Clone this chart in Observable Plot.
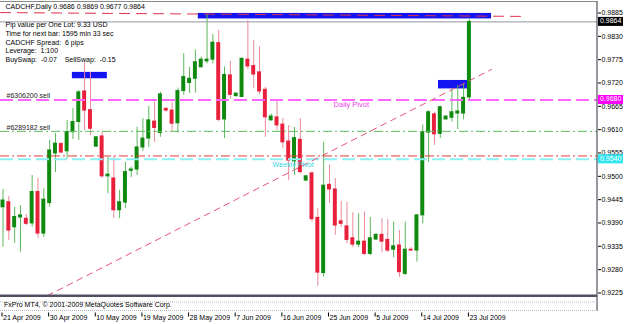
<!DOCTYPE html>
<html><head><meta charset="utf-8">
<script src="https://cdn.jsdelivr.net/npm/d3@7"></script>
<script src="https://cdn.jsdelivr.net/npm/@observablehq/plot@0.6"></script>
<style>
html,body{margin:0;padding:0;background:#fff;}
#chart svg{display:block;overflow:visible}
</style></head><body><div id="chart"></div>
<script>
// ---- data ----
const dateLabels = ["21 Apr 2009","30 Apr 2009","10 May 2009","19 May 2009","28 May 2009","7 Jun 2009","16 Jun 2009","25 Jun 2009","5 Jul 2009","14 Jul 2009","23 Jul 2009"];
const tickBars = [0,8,16,24,32,40,48,56,64,72,80];
const priceTicks = [0.9885,0.9830,0.9775,0.9720,0.9665,0.9610,0.9555,0.9500,0.9445,0.9390,0.9335,0.9280,0.9225];

const open = [
0.9427,0.9439,0.9380,0.9403,0.9400,0.9389,0.9463,0.9365,0.9437,0.9554,
0.9576,0.9559,0.9604,0.9628,0.9700,0.9656,0.9570,0.9594,0.9500,0.9495,
0.9420,0.9438,0.9513,0.9516,0.9568,0.9589,0.9629,0.9602,0.9659,0.9655,
0.9625,0.9701,0.9720,0.9730,0.9757,0.9771,0.9775,0.9814,0.9634,0.9738,
0.9689,0.9687,0.9775,0.9760,0.9745,0.9704,0.9632,0.9639,0.9622,0.9582,
0.9535,0.9586,0.9490,0.9507,0.9402,0.9272,0.9480,0.9469,0.9394,0.9382,
0.9354,0.9339,0.9346,0.9317,0.9351,0.9362,0.9350,0.9327,0.9337,0.9270,
0.9327,0.9325,0.9408,0.9603,0.9646,0.9600,0.9634,0.9638,0.9648,0.9648,
0.9686];
const high = [
0.9469,0.9453,0.9427,0.9431,0.9410,0.9502,0.9495,0.9471,0.9585,0.9601,
0.9580,0.9632,0.9660,0.9702,0.9768,0.9745,0.9594,0.9603,0.9545,0.9547,
0.9467,0.9533,0.9522,0.9616,0.9636,0.9665,0.9675,0.9698,0.9662,0.9675,
0.9708,0.9789,0.9757,0.9798,0.9781,0.9882,0.9834,0.9844,0.9758,0.9771,
0.9696,0.9779,0.9867,0.9820,0.9805,0.9710,0.9647,0.9679,0.9636,0.9620,
0.9615,0.9636,0.9502,0.9510,0.9424,0.9580,0.9526,0.9495,0.9441,0.9439,
0.9414,0.9412,0.9416,0.9403,0.9365,0.9400,0.9398,0.9392,0.9372,0.9392,
0.9332,0.9410,0.9621,0.9655,0.9651,0.9665,0.9642,0.9706,0.9714,0.9718,
0.9869];
const low = [
0.9333,0.9349,0.9342,0.9321,0.9384,0.9380,0.9354,0.9356,0.9427,0.9509,
0.9554,0.9541,0.9587,0.9585,0.9608,0.9596,0.9568,0.9495,0.9459,0.9401,
0.9400,0.9424,0.9497,0.9502,0.9559,0.9568,0.9580,0.9592,0.9651,0.9606,
0.9602,0.9691,0.9695,0.9696,0.9756,0.9765,0.9765,0.9628,0.9589,0.9682,
0.9687,0.9686,0.9752,0.9706,0.9693,0.9592,0.9630,0.9608,0.9565,0.9490,
0.9502,0.9506,0.9488,0.9392,0.9241,0.9262,0.9436,0.9361,0.9380,0.9341,
0.9332,0.9332,0.9313,0.9313,0.9349,0.9320,0.9320,0.9308,0.9262,0.9266,
0.9324,0.9298,0.9388,0.9533,0.9573,0.9589,0.9633,0.9628,0.9610,0.9633,
0.9677];
const close = [
0.9443,0.9372,0.9404,0.9408,0.9388,0.9463,0.9365,0.9445,0.9561,0.9577,
0.9556,0.9604,0.9628,0.9698,0.9655,0.9612,0.9592,0.9500,0.9504,0.9420,
0.9439,0.9510,0.9516,0.9568,0.9589,0.9632,0.9614,0.9693,0.9655,0.9624,
0.9701,0.9734,0.9730,0.9769,0.9775,0.9775,0.9815,0.9633,0.9739,0.9692,
0.9695,0.9777,0.9759,0.9740,0.9700,0.9639,0.9641,0.9620,0.9580,0.9537,
0.9590,0.9510,0.9500,0.9399,0.9273,0.9478,0.9469,0.9384,0.9388,0.9350,
0.9339,0.9346,0.9317,0.9354,0.9362,0.9346,0.9325,0.9335,0.9274,0.9327,
0.9325,0.9408,0.9604,0.9651,0.9599,0.9663,0.9641,0.9651,0.9653,0.9685,
0.9864];

const infoTitle = "CADCHF,Daily 0.9686 0.9869 0.9677 0.9864";
const infoLines = ["Pip value per One Lot: 9.33 USD","Time for next bar: 1595 min 33 sec","CADCHF Spread:  6 pips","Leverage:  1:100","BuySwap:  -0.07    SellSwap:  -0.15"];
const footerText = "FxPro MT4, \u00a9 2001-2009 MetaQuotes Software Corp.";

const bidLevel = 0.9864;
const dailyPivot = 0.9680;
const weeklyPivot = 0.9540;
const stopLevel = 0.9548;
const orderLabels = ["#6306200 sell", "#6289182 sell"];
const orderLevels = [0.9680, 0.9606];
const pivotNames = ["Daily Pivot", "Weekly Pivot"];
const pivotBars = [56.7, 46.2];
const pivotLevels = [dailyPivot, weeklyPivot];
const boxX1 = [11.9, 33.5, 74.7];
const boxX2 = [17.9, 83.8, 79.7];
const boxLo = [0.9730, 0.9871, 0.9706];
const boxHi = [0.9745, 0.9884, 0.9726];
const trendUpBars = [7.64, 83.8];
const trendUpPrices = [0.9219, 0.9752];
const trendTopBars = [-0.43, 88.8];
const trendTopPrices = [0.9886, 0.9877];

// ---- build tables ----
const bars = open.map((o, i) => ({i, o, h: high[i], l: low[i], c: close[i], up: close[i] >= o}));
const upBars = bars.filter(d => d.up), dnBars = bars.filter(d => !d.up);
const boxes = boxX1.map((x1, k) => ({x1, x2: boxX2[k], y1: boxLo[k], y2: boxHi[k]}));
const trendUp = trendUpBars.map((b, k) => ({bar: b, price: trendUpPrices[k]}));
const trendTop = trendTopBars.map((b, k) => ({bar: b, price: trendTopPrices[k]}));
const orders = orderLabels.map((t, k) => ({t, level: orderLevels[k]}));
const pivots = pivotNames.map((t, k) => ({t, bar: pivotBars[k], level: pivotLevels[k]}));

const FONT = "'Liberation Sans', Arial, sans-serif";
const W = 625, H = 324;
const plot = Plot.plot({
  width: W, height: H,
  marginLeft: 0, marginRight: 28, marginTop: 1, marginBottom: 29,
  style: {fontFamily: FONT, fontSize: "7px", background: "#fff", color: "#000"},
  x: {type: "linear", domain: [-0.429, 101.97], axis: null},
  y: {type: "linear", domain: [0.92191, 0.99121], axis: null},
  marks: [
    Plot.rect(boxes, {x1: "x1", x2: "x2", y1: "y1", y2: "y2", fill: "#1414f0"}),
    Plot.ruleY([bidLevel], {stroke: "#8e94a0", strokeWidth: 1}),
    Plot.ruleX(upBars, {x: "i", y1: "l", y2: "h", stroke: "#5cb85c", strokeWidth: 1}),
    Plot.ruleX(dnBars, {x: "i", y1: "l", y2: "h", stroke: "#eb8a98", strokeWidth: 1}),
    Plot.rect(upBars, {x1: d => d.i - 0.34, x2: d => d.i + 0.34, y1: "o", y2: "c", fill: "#0f8a0f", insetTop: -0.5, insetBottom: -0.5}),
    Plot.rect(dnBars, {x1: d => d.i - 0.34, x2: d => d.i + 0.34, y1: "o", y2: "c", fill: "#e8203c", insetTop: -0.5, insetBottom: -0.5}),
    Plot.ruleY([dailyPivot], {stroke: "#ff66ff", strokeWidth: 2, strokeDasharray: "13,5"}),
    Plot.ruleY([orderLevels[1]], {stroke: "#5fbf5f", strokeWidth: 1, strokeDasharray: "9,3,2,3"}),
    Plot.ruleY([stopLevel], {stroke: "#e23c3c", strokeWidth: 1, strokeDasharray: "9,3,2,3"}),
    Plot.ruleY([weeklyPivot], {stroke: "#8af0f4", strokeWidth: 2, strokeDasharray: "13,5"}),
    Plot.line(trendUp, {x: "bar", y: "price", stroke: "#e8557c", strokeWidth: 1, strokeDasharray: "6,5"}),
    Plot.line(trendTop, {x: "bar", y: "price", stroke: "#e0304c", strokeWidth: 1, strokeDasharray: "10,7"}),
    Plot.text([infoTitle], {frameAnchor: "top-left", dx: 5, dy: 3, textAnchor: "start", lineAnchor: "top", fontSize: 7, fill: "#000"}),
    Plot.text([infoLines.join("\n")], {frameAnchor: "top-left", dx: 5, dy: 19.5, textAnchor: "start", lineAnchor: "top", lineHeight: 1.24, fontSize: 7, fill: "#000"}),
    Plot.text(orders, {y: "level", text: "t", frameAnchor: "left", dx: 6, dy: -4, textAnchor: "start", fontSize: 7, fill: "#222"}),
    Plot.text(pivots.slice(0, 1), {x: "bar", y: "level", text: "t", dy: 5, textAnchor: "start", fontSize: 7.5, fill: "#ee44ee"}),
    Plot.text(pivots.slice(1), {x: "bar", y: "level", text: "t", dy: 5, textAnchor: "start", fontSize: 7.2, fill: "#33d6e6"}),
    Plot.axisY(priceTicks, {anchor: "right", tickSize: 3, tickPadding: 1, tickFormat: d => d.toFixed(4), fontSize: 7, fill: "#000"}),
    Plot.axisX(tickBars, {anchor: "bottom", tickSize: 0, tickPadding: 20, tickFormat: d => dateLabels[tickBars.indexOf(d)], textAnchor: "start", fontSize: 7, fill: "#000"})
  ]
});
document.getElementById("chart").appendChild(plot);

// ---- terminal chrome (frame, subwindow, price labels) ----
const xs = plot.scale("x"), ys = plot.scale("y");
const svg = d3.select(plot);
const xR = xs.apply(xs.domain[1]);
const g = svg.append("g").attr("text-anchor", "start");
g.append("line").attr("x1", 0).attr("x2", xR).attr("y1", 1.5).attr("y2", 1.5).attr("stroke", "#8a8a8a");
g.append("line").attr("x1", xR).attr("x2", xR).attr("y1", 1).attr("y2", 311).attr("stroke", "#303040");
g.append("rect").attr("x", 0).attr("y", 294.5).attr("width", xR).attr("height", 2.5).attr("fill", "#505060");
g.append("line").attr("x1", 0).attr("x2", xR).attr("y1", 302).attr("y2", 302).attr("stroke", "#b8b8b8").attr("stroke-dasharray", "1,1");
g.append("line").attr("x1", 0).attr("x2", xR).attr("y1", 310.5).attr("y2", 310.5).attr("stroke", "#b8b8b8").attr("stroke-dasharray", "1,1");
g.append("text").attr("x", 4).attr("y", 305.5).attr("text-anchor", "start").attr("dominant-baseline", "middle").attr("font-family", FONT).attr("font-size", 7).attr("fill", "#000").text(footerText);
g.selectAll(".dtick").data(tickBars).join("line")
  .attr("x1", d => xs.apply(d) - 0.5).attr("x2", d => xs.apply(d) - 0.5)
  .attr("y1", 312.5).attr("y2", 316.5).attr("stroke", "#000");
const tags = [{v: bidLevel, bg: "#000"}, {v: dailyPivot, bg: "#ff00ff"}, {v: weeklyPivot, bg: "#2ee6f2"}];
tags.forEach(t => {
  const y = ys.apply(t.v);
  g.append("rect").attr("x", 598).attr("y", y - 4.5).attr("width", 25).attr("height", 9).attr("fill", t.bg);
  g.append("text").attr("x", 600).attr("y", y).attr("text-anchor", "start").attr("dominant-baseline", "middle").attr("font-family", FONT).attr("font-size", 7).attr("fill", "#fff").text(t.v.toFixed(4));
});
</script>
</body></html>
